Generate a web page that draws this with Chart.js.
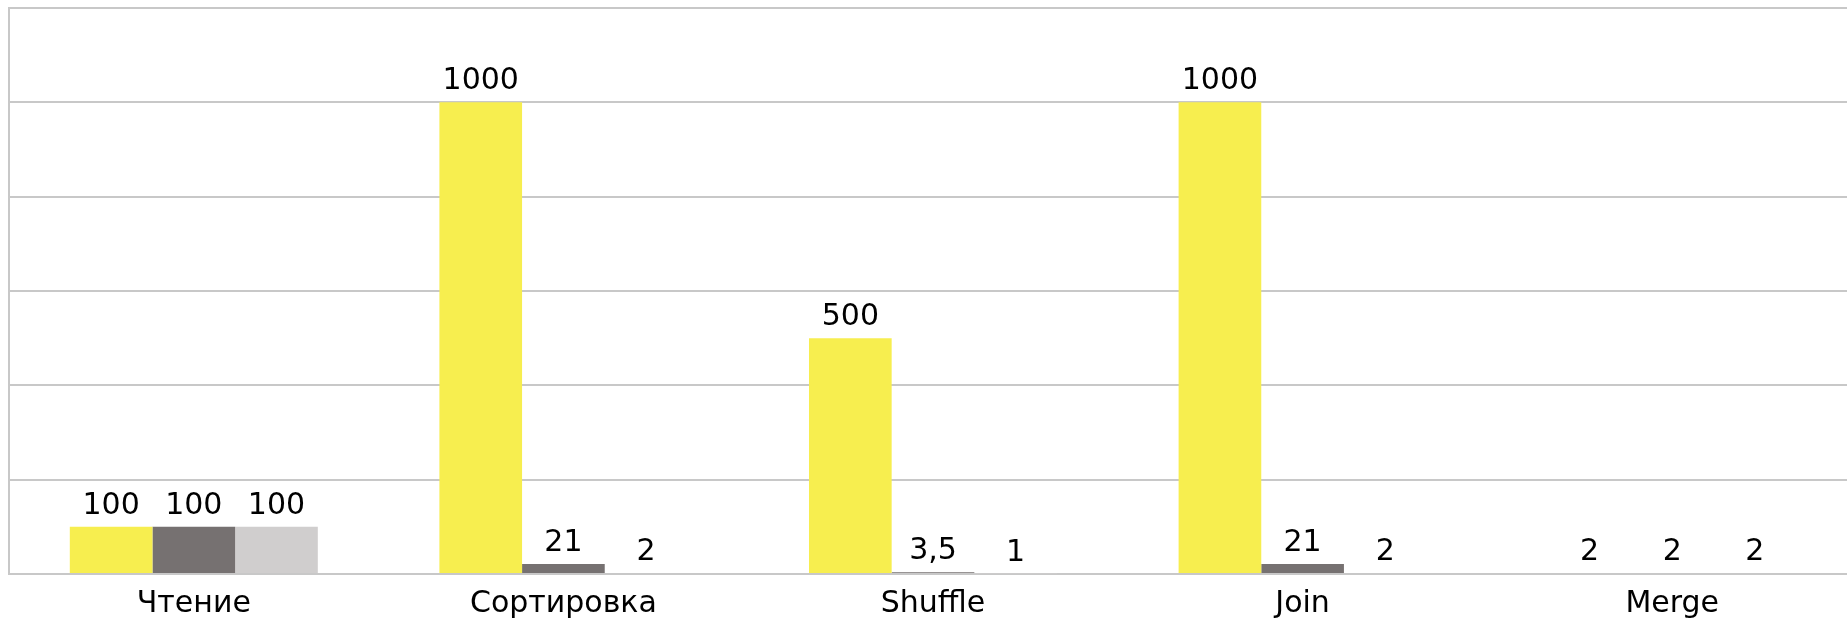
<!DOCTYPE html>
<html>
<head>
<meta charset="utf-8">
<script src="https://cdn.jsdelivr.net/npm/chart.js@4/dist/chart.umd.min.js"></script>
<style>
  html, body { margin: 0; padding: 0; background: #fff; overflow: hidden; }
  #wrap { width: 1860px; height: 621px; position: relative; }
</style>
</head>
<body>
<div id="wrap"><canvas id="barChart"></canvas></div>
<script>
//data//
const categories = ['Чтение', 'Сортировка', 'Shuffle', 'Join', 'Merge'];
const seriesA = [100, 1000, 500, 1000, 2];
const seriesB = [100, 21, 3.5, 21, 2];
const seriesC = [100, 2, 1, 2, 2];
const yTicks = [0, 200, 400, 600, 800, 1000, 1200];

const colors = ['#F7EE4F', '#767171', '#D0CECE'];
const gridColor = '#C8C8C8';
const fontFamily = '"DejaVu Sans", Verdana, sans-serif';

// value labels above bars, comma decimals
Chart.register({
  id: 'barValueLabels',
  afterDatasetsDraw(chart) {
    const ctx = chart.ctx;
    ctx.save();
    ctx.fillStyle = '#000';
    ctx.textAlign = 'center';
    ctx.textBaseline = 'alphabetic';
    ctx.font = `30px ${fontFamily}`;
    chart.data.datasets.forEach((ds, i) => {
      const meta = chart.getDatasetMeta(i);
      meta.data.forEach((bar, j) => {
        const txt = String(ds.data[j]).replace('.', ',');
        ctx.fillText(txt, bar.x, bar.y - 13);
      });
    });
    ctx.restore();
  }
});

const ctx = document.getElementById('barChart').getContext('2d');
new Chart(ctx, {
  type: 'bar',
  data: {
    labels: categories,
    datasets: [
      { label: 'A', data: seriesA, backgroundColor: colors[0] },
      { label: 'B', data: seriesB, backgroundColor: colors[1] },
      { label: 'C', data: seriesC, backgroundColor: colors[2] }
    ]
  },
  options: {
    responsive: true,
    maintainAspectRatio: false,
    animation: false,
    categoryPercentage: 0.671,
    barPercentage: 1,
    layout: {
      padding: { top: 8, left: 9, right: 3, bottom: 0 }
    },
    plugins: {
      legend: { display: false },
      tooltip: { enabled: false }
    },
    scales: {
      x: {
        grid: { display: false, drawTicks: false },
        border: { color: gridColor, width: 2 },
        ticks: {
          color: '#000',
          padding: 12,
          font: { family: fontFamily, size: 30 }
        },
        afterFit(axis) { axis.height = 47; }
      },
      y: {
        min: 0,
        max: 1200,
        afterBuildTicks(axis) { axis.ticks = yTicks.map(v => ({ value: v })); },
        grid: { color: gridColor, lineWidth: 2, drawTicks: false },
        border: { color: gridColor, width: 2 },
        ticks: { display: false },
        afterFit(axis) { axis.width = 0; }
      }
    }
  }
});
</script>
</body>
</html>
